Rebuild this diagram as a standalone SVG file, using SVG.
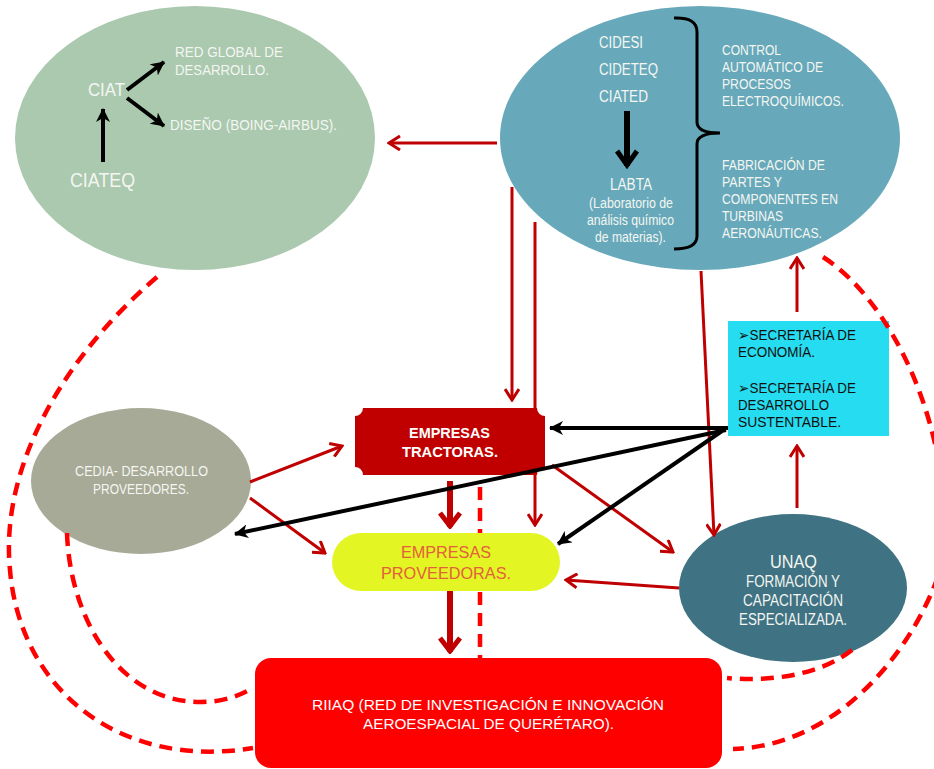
<svg xmlns="http://www.w3.org/2000/svg" width="934" height="769" viewBox="0 0 934 769">
<style>
text{font-family:"Liberation Sans",Arial,sans-serif}
.w{fill:#f4f6f2;font-size:15px}
.r{stroke:#c00000;stroke-width:3;fill:none}
.rt{stroke:#c00000;stroke-width:6;fill:none}
.k{stroke:#000;stroke-width:4;fill:none}
.d{stroke:#ff0000;stroke-width:4.5;fill:none;stroke-dasharray:13 8}
</style>
<defs>
<marker id="ar" viewBox="0 0 14 16" refX="12" refY="8" markerWidth="14" markerHeight="16" markerUnits="userSpaceOnUse" orient="auto">
<path d="M1,1 L12,8 L1,15" fill="none" stroke="#c00000" stroke-width="3"/>
</marker>
<marker id="art" viewBox="0 0 18 24" refX="16" refY="12" markerWidth="18" markerHeight="24" markerUnits="userSpaceOnUse" orient="auto">
<path d="M2,2 L15,12 L2,22" fill="none" stroke="#c00000" stroke-width="5"/>
</marker>
<marker id="ak" viewBox="0 0 14 14" refX="13" refY="7" markerWidth="14" markerHeight="14" markerUnits="userSpaceOnUse" orient="auto">
<path d="M0,0 L14,7 L0,14 L4,7 Z" fill="#000"/>
</marker>
<marker id="akv" viewBox="0 0 20 24" refX="17" refY="12" markerWidth="20" markerHeight="24" markerUnits="userSpaceOnUse" orient="auto">
<path d="M2,2 L16,12 L2,22" fill="none" stroke="#000" stroke-width="5"/>
</marker>
</defs>
<rect width="934" height="769" fill="#fff"/>

<g id="connectors-back">
<path class="r" d="M535,222 V525" marker-end="url(#ar)"/>
<path class="d" d="M480,487 V658"/>
</g>

<g id="node-ciat">
<ellipse cx="195" cy="138" rx="180" ry="132" fill="#aac9ae"/>
<text class="w" x="88" y="96" style="font-size:18px" textLength="37" lengthAdjust="spacingAndGlyphs">CIAT</text>
<text class="w" x="70" y="187" style="font-size:20px" textLength="65" lengthAdjust="spacingAndGlyphs">CIATEQ</text>
<text class="w" x="175" y="57" textLength="108" lengthAdjust="spacingAndGlyphs">RED GLOBAL DE</text>
<text class="w" x="175" y="75" textLength="94" lengthAdjust="spacingAndGlyphs">DESARROLLO.</text>
<text class="w" x="170" y="130" textLength="167" lengthAdjust="spacingAndGlyphs">DISEÑO (BOING-AIRBUS).</text>
<path class="k" d="M103,162 V109" marker-end="url(#ak)"/>
<path class="k" d="M127,90 L164,62" marker-end="url(#ak)"/>
<path class="k" d="M127,98 L164,126" marker-end="url(#ak)"/>
</g>

<g id="node-cidesi">
<ellipse cx="700" cy="138" rx="200" ry="132" fill="#67a9ba"/>
<text class="w" x="599" y="48" style="font-size:16px" textLength="44" lengthAdjust="spacingAndGlyphs">CIDESI</text>
<text class="w" x="599" y="75" style="font-size:16px" textLength="59" lengthAdjust="spacingAndGlyphs">CIDETEQ</text>
<text class="w" x="599" y="102" style="font-size:16px" textLength="49" lengthAdjust="spacingAndGlyphs">CIATED</text>
<path d="M627,111 V166" stroke="#000" stroke-width="6" fill="none" marker-end="url(#akv)"/>
<text class="w" x="610" y="190" style="font-size:16px" textLength="42" lengthAdjust="spacingAndGlyphs">LABTA</text>
<text class="w" x="589" y="208" style="font-size:14px" textLength="84" lengthAdjust="spacingAndGlyphs">(Laboratorio de</text>
<text class="w" x="587" y="225" style="font-size:14px" textLength="87" lengthAdjust="spacingAndGlyphs">análisis químico</text>
<text class="w" x="595" y="242" style="font-size:14px" textLength="71" lengthAdjust="spacingAndGlyphs">de materias).</text>
<path d="M674,18 Q697,17 697,32 V122 Q697,133 720,133 Q697,133 697,144 V236 Q697,249 674,249" fill="none" stroke="#000" stroke-width="3"/>
<text class="w" x="722" y="55" textLength="59" lengthAdjust="spacingAndGlyphs">CONTROL</text>
<text class="w" x="722" y="72" textLength="101" lengthAdjust="spacingAndGlyphs">AUTOMÁTICO DE</text>
<text class="w" x="722" y="89" textLength="69" lengthAdjust="spacingAndGlyphs">PROCESOS</text>
<text class="w" x="722" y="106" textLength="122" lengthAdjust="spacingAndGlyphs">ELECTROQUÍMICOS.</text>
<text class="w" x="722" y="170" textLength="103" lengthAdjust="spacingAndGlyphs">FABRICACIÓN DE</text>
<text class="w" x="722" y="187" textLength="60" lengthAdjust="spacingAndGlyphs">PARTES Y</text>
<text class="w" x="722" y="204" textLength="116" lengthAdjust="spacingAndGlyphs">COMPONENTES EN</text>
<text class="w" x="722" y="221" textLength="61" lengthAdjust="spacingAndGlyphs">TURBINAS</text>
<text class="w" x="722" y="238" textLength="100" lengthAdjust="spacingAndGlyphs">AERONÁUTICAS.</text>
</g>

<g id="node-cedia">
<ellipse cx="141" cy="481" rx="110" ry="73" fill="#a7aa96"/>
<text class="w" x="75" y="476" textLength="133" lengthAdjust="spacingAndGlyphs">CEDIA- DESARROLLO</text>
<text class="w" x="93" y="494" textLength="96" lengthAdjust="spacingAndGlyphs">PROVEEDORES.</text>
</g>

<g id="node-tractoras">
<path d="M363,408 H537 A8,8 0 0 0 545,416 V467 A8,8 0 0 0 537,475 H363 A8,8 0 0 0 355,467 V416 A8,8 0 0 0 363,408 Z" fill="#c00000"/>
<text x="409" y="438" fill="#fff" font-weight="bold" font-size="14" textLength="81" lengthAdjust="spacingAndGlyphs">EMPRESAS</text>
<text x="402" y="457" fill="#fff" font-weight="bold" font-size="14" textLength="96" lengthAdjust="spacingAndGlyphs">TRACTORAS.</text>
</g>

<g id="node-proveedoras">
<rect x="332" y="533" width="228" height="58" rx="29" fill="#e3f522"/>
<text x="401" y="558" fill="#e3603c" font-size="16" textLength="90" lengthAdjust="spacingAndGlyphs">EMPRESAS</text>
<text x="381" y="579" fill="#e3603c" font-size="16" textLength="130" lengthAdjust="spacingAndGlyphs">PROVEEDORAS.</text>
</g>

<g id="node-secretaria">
<rect x="728" y="321" width="161" height="115" fill="#26dcf0"/>
<text x="738" y="340" fill="#111" font-size="14" textLength="118" lengthAdjust="spacingAndGlyphs">➢SECRETARÍA DE</text>
<text x="738" y="357" fill="#111" font-size="14" textLength="77" lengthAdjust="spacingAndGlyphs">ECONOMÍA.</text>
<text x="738" y="393" fill="#111" font-size="14" textLength="118" lengthAdjust="spacingAndGlyphs">➢SECRETARÍA DE</text>
<text x="738" y="410" fill="#111" font-size="14" textLength="91" lengthAdjust="spacingAndGlyphs">DESARROLLO</text>
<text x="738" y="427" fill="#111" font-size="14" textLength="103" lengthAdjust="spacingAndGlyphs">SUSTENTABLE.</text>
</g>

<g id="node-unaq">
<ellipse cx="793" cy="588" rx="114" ry="74" fill="#3f7282"/>
<text class="w" x="770" y="568" style="font-size:19px" textLength="47" lengthAdjust="spacingAndGlyphs">UNAQ</text>
<text class="w" x="746" y="587" style="font-size:16px" textLength="94" lengthAdjust="spacingAndGlyphs">FORMACIÓN Y</text>
<text class="w" x="743" y="606" style="font-size:16px" textLength="100" lengthAdjust="spacingAndGlyphs">CAPACITACIÓN</text>
<text class="w" x="739" y="625" style="font-size:16px" textLength="108" lengthAdjust="spacingAndGlyphs">ESPECIALIZADA.</text>
</g>

<g id="node-riiaq">
<rect x="255" y="658" width="467" height="110" rx="16" fill="#ff0000"/>
<text x="312" y="710" fill="#fff" font-size="15" textLength="352" lengthAdjust="spacingAndGlyphs">RIIAQ (RED DE INVESTIGACIÓN E INNOVACIÓN</text>
<text x="363" y="729" fill="#fff" font-size="15" textLength="251" lengthAdjust="spacingAndGlyphs">AEROESPACIAL DE QUERÉTARO).</text>
</g>

<g id="connectors">
<path class="r" d="M497,143 H389" marker-end="url(#ar)"/>
<path class="r" d="M512,187 V400" marker-end="url(#ar)"/>
<path class="rt" d="M450,481 V527" marker-end="url(#art)"/>
<path class="rt" d="M450,591 V652" marker-end="url(#art)"/>
<path class="r" d="M250,482 L342,446" marker-end="url(#ar)"/>
<path class="r" d="M250,498 L325,553" marker-end="url(#ar)"/>
<path class="r" d="M552,465 L673,552" marker-end="url(#ar)"/>
<path class="r" d="M701,271 L714,535" marker-end="url(#ar)"/>
<path class="r" d="M679,588 L566,580" marker-end="url(#ar)"/>
<path class="r" d="M797,508 V446" marker-end="url(#ar)"/>
<path class="r" d="M797,312 V258" marker-end="url(#ar)"/>
<path class="k" d="M728,428 H550" marker-end="url(#ak)"/>
<path class="k" d="M726,430 L235,534" marker-end="url(#ak)"/>
<path class="k" d="M722,431 L558,544" marker-end="url(#ak)"/>
<path class="d" d="M157,277 C60,360 0,470 10,570 C20,690 120,770 253,748"/>
<path class="d" d="M67,533 C70,620 120,702 200,702 C225,702 240,695 253,688"/>
<path class="d" d="M823,257 C890,300 950,420 945,550 C935,610 860,745 733,749"/>
<path class="d" d="M852,650 C820,675 770,682 727,678"/>
</g>
</svg>
